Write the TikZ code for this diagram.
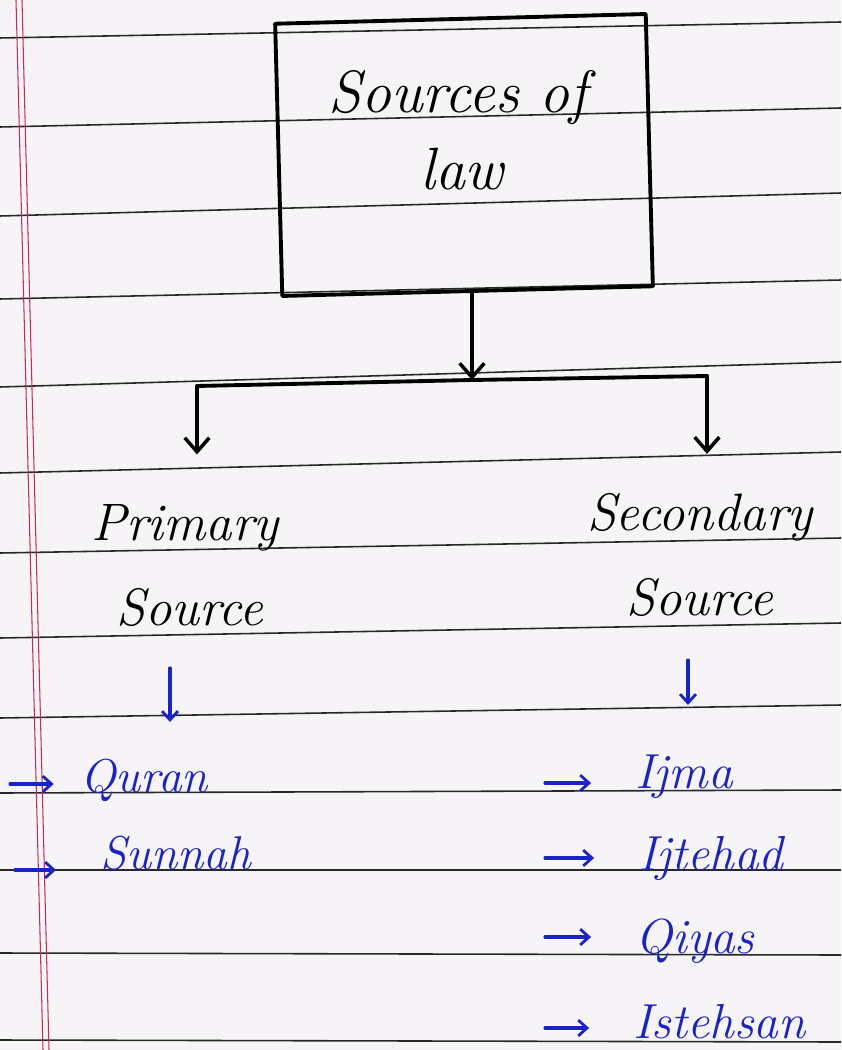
\documentclass[tikz,border=0pt]{standalone}
\usepackage{tikz}
\usetikzlibrary{arrows.meta,positioning}
\definecolor{paper}{RGB}{246,244,247}
\definecolor{rulegray}{RGB}{40,40,40}
\definecolor{margin}{RGB}{200,40,90}
\definecolor{pen}{RGB}{25,35,200}
\tikzset{
  ink/.style={line width=2.2pt, black, line cap=round, line join=round},
  inkarrow/.style={ink, -{Straight Barb[length=8pt,width=14pt,line width=2pt]}},
  penarrow/.style={line width=1.8pt, pen, line cap=round, -{Straight Barb[length=5pt,width=9pt,line width=1.6pt]}},
  heading/.style={font=\fontsize{30}{36}\selectfont\itshape, inner sep=0pt, anchor=base},
  item/.style={font=\fontsize{28}{34}\selectfont\itshape, text=pen, inner sep=0pt, anchor=base west},
}

\begin{document}
\begin{tikzpicture}[x=0.02cm,y=-0.02cm]
  % Paper
  \fill[paper] (0,0) rectangle (841,1050);
  \useasboundingbox (0,0) rectangle (841,1050);
  % Ruled lines
  \foreach \l/\r in {38/22, 127/108, 216/193, 299/280, 387/362, 473/452, 553/538,
                     638/623, 718/705, 793/790, 870/870, 953/955, 1040/1042} {
    \draw[rulegray, line width=0.9pt] (0,\l) -- (841,\r);
  }
  % Margin
  \draw[margin, line width=0.6pt] (16,0) -- (43,1050);
  \draw[margin, line width=0.6pt] (22,0) -- (49,1050);

  % Title box
  \node[draw, ink, rotate=1.5, minimum width=211pt, minimum height=155pt] (box) at (464,155) {};
  \node[heading, font=\fontsize{34}{40}\selectfont\itshape] (ttl) at (458,113) {Sources of};
  \node[heading, font=\fontsize{34}{40}\selectfont\itshape] (law) at (462,190) {law};

  % Branches
  \node[heading] (pri) at (185,540) {Primary};
  \node[heading] (prisrc) at (190,625) {Source};
  \node[heading] (sec) at (700,530) {Secondary};
  \node[heading] (secsrc) at (700,615) {Source};

  \coordinate (split) at (472,380);
  \coordinate (lcorner) at (197,386);
  \coordinate (rcorner) at (707,376);
  \draw[inkarrow] (box.south -| split) -- (split);
  \draw[ink] (lcorner) -- (split) -- (rcorner);
  \draw[inkarrow, shorten >=28pt] (lcorner) -- (lcorner |- pri.north);
  \draw[inkarrow, shorten >=22pt] (rcorner) -- (rcorner |- sec.north);

  % Primary items
  \node[item, font=\fontsize{27}{32}\selectfont\itshape] (quran) at (80,792) {Quran};
  \node[item, font=\fontsize{27}{32}\selectfont\itshape] (sunnah) at (100,869) {Sunnah};
  \coordinate (pdown) at (170,668);
  \coordinate (pdownend) at (170,722);
  \draw[penarrow] (pdown) -- (pdownend);
  \coordinate (qtail) at (10,784);
  \coordinate (stail) at (15,870);
  \draw[penarrow, shorten >=15pt] (qtail) -- (qtail -| quran.west);
  \draw[penarrow, shorten >=25pt] (stail) -- (stail -| sunnah.west);

  % Secondary items
  \node[item] (ijma) at (635,788) {Ijma};
  \node[item] (ijtehad) at (638,870) {Ijtehad};
  \node[item] (qiyas) at (635,953) {Qiyas};
  \node[item] (istehsan) at (633,1038) {Istehsan};
  \coordinate (sdown) at (688,660);
  \coordinate (sdownend) at (688,705);
  \draw[penarrow] (sdown) -- (sdownend);
  \foreach \n/\y in {ijma/783, ijtehad/858, qiyas/937, istehsan/1028} {
    \coordinate (\n tail) at (545,\y);
    \draw[penarrow, shorten >=25pt] (\n tail) -- (\n tail -| \n.west);
  }
\end{tikzpicture}
\end{document}
